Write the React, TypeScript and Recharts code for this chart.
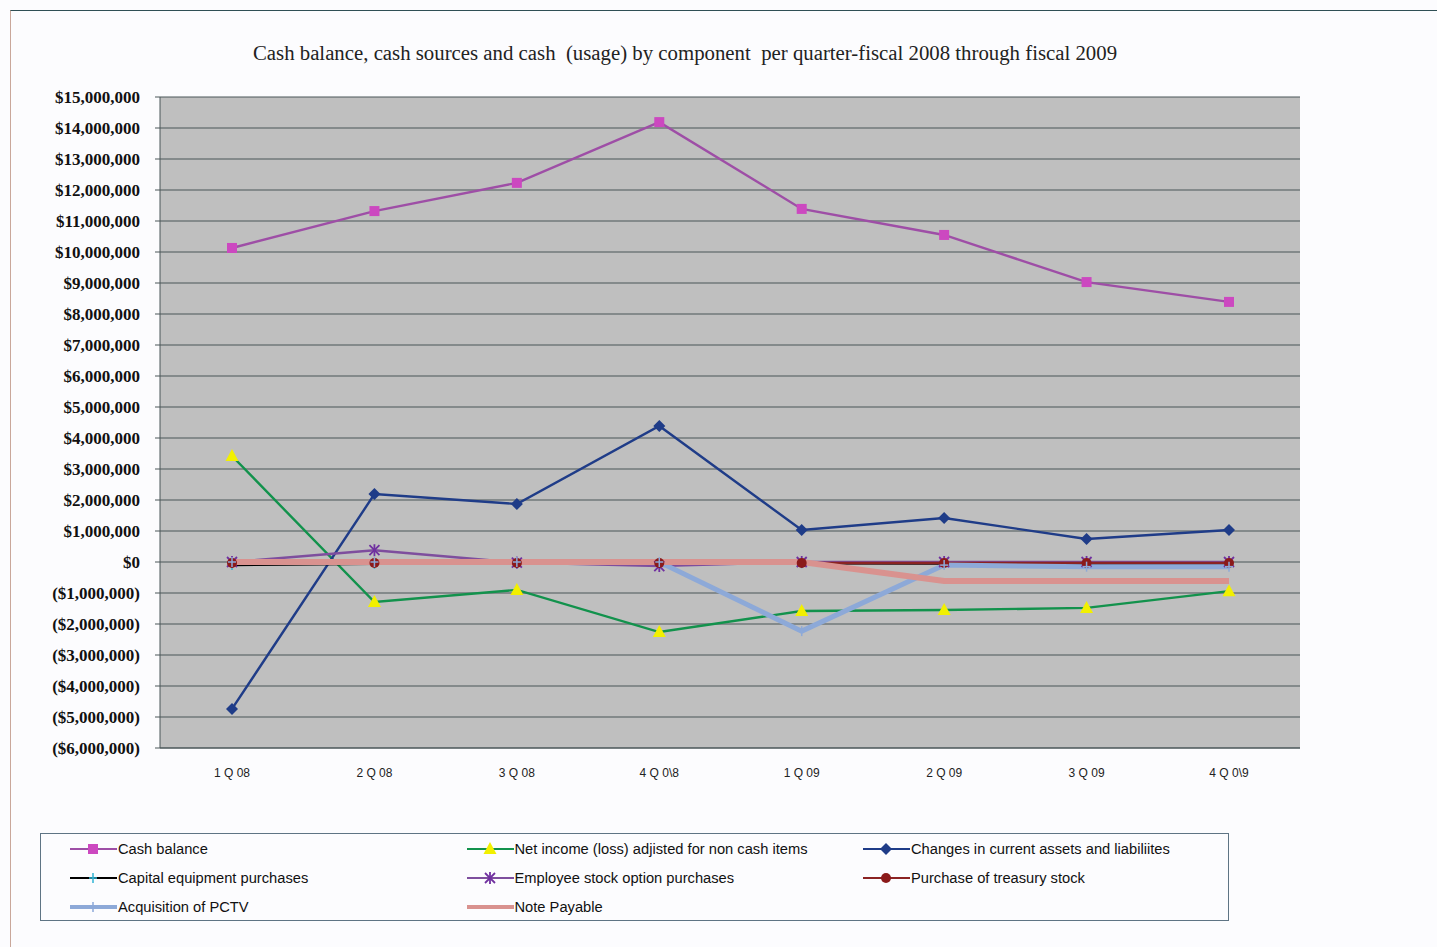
import React from "react";
import { CartesianGrid, Line, LineChart, XAxis, YAxis } from "recharts";

const quarters = ["1 Q 08", "2 Q 08", "3 Q 08", "4 Q 0\\8", "1 Q 09", "2 Q 09", "3 Q 09", "4 Q 0\\9"];

const cashBalance = [10130000, 11320000, 12230000, 14190000, 11390000, 10550000, 9030000, 8390000];
const netIncome = [3420000, -1290000, -900000, -2260000, -1580000, -1550000, -1480000, -940000];
const changesCurrent = [-4740000, 2190000, 1870000, 4390000, 1030000, 1420000, 740000, 1030000];
const capitalEquipment = [-100000, -60000, -50000, -50000, -40000, -50000, -60000, -50000];
const employeeOptions = [0, 380000, -20000, -130000, 0, 0, 0, 0];
const treasuryStock = [-30000, -30000, -30000, -30000, -30000, -30000, -30000, -30000];
const acquisitionPctv = [0, 0, 0, 0, -2230000, -100000, -150000, -150000];
const notePayable = [0, 0, 0, 0, 0, -610000, -610000, -610000];

const yTicks = [
  -6000000, -5000000, -4000000, -3000000, -2000000, -1000000, 0, 1000000, 2000000, 3000000, 4000000,
  5000000, 6000000, 7000000, 8000000, 9000000, 10000000, 11000000, 12000000, 13000000, 14000000, 15000000,
];

const title = "Cash balance, cash sources and cash  (usage) by component  per quarter-fiscal 2008 through fiscal 2009";

const data = quarters.map((q, i) => ({
  q,
  cash: cashBalance[i],
  net: netIncome[i],
  changes: changesCurrent[i],
  capital: capitalEquipment[i],
  employee: employeeOptions[i],
  treasury: treasuryStock[i],
  pctv: acquisitionPctv[i],
  note: notePayable[i],
}));

type MarkerKind = "square" | "triangle" | "diamond" | "plus" | "star" | "circle" | "none";

function Marker({ kind, x, y, color }: { kind: MarkerKind; x: number; y: number; color: string }) {
  switch (kind) {
    case "square":
      return <rect x={x - 5} y={y - 5} width={10} height={10} fill={color} />;
    case "triangle":
      return <polygon points={`${x},${y - 7} ${x + 6.5},${y + 5} ${x - 6.5},${y + 5}`} fill={color} />;
    case "diamond":
      return <polygon points={`${x},${y - 6} ${x + 6},${y} ${x},${y + 6} ${x - 6},${y}`} fill={color} />;
    case "plus":
      return (
        <g stroke={color} strokeWidth={1.5}>
          <line x1={x - 4} y1={y} x2={x + 4} y2={y} />
          <line x1={x} y1={y - 5} x2={x} y2={y + 5} />
        </g>
      );
    case "star":
      return (
        <g stroke={color} strokeWidth={1.8}>
          <line x1={x - 5} y1={y - 5} x2={x + 5} y2={y + 5} />
          <line x1={x - 5} y1={y + 5} x2={x + 5} y2={y - 5} />
          <line x1={x} y1={y - 6} x2={x} y2={y + 6} />
        </g>
      );
    case "circle":
      return <circle cx={x} cy={y} r={5} fill={color} />;
    default:
      return null;
  }
}

const series = [
  { key: "cash", name: "Cash balance", stroke: "#9E4EA6", width: 2.4, marker: "square" as MarkerKind, markerColor: "#CC48C0" },
  { key: "net", name: "Net income (loss) adjisted for non cash items", stroke: "#12924C", width: 2.4, marker: "triangle" as MarkerKind, markerColor: "#F2F000" },
  { key: "changes", name: "Changes in current assets and liabiliites", stroke: "#1F3C88", width: 2.4, marker: "diamond" as MarkerKind, markerColor: "#1F3C88" },
  { key: "capital", name: "Capital equipment purchases", stroke: "#000000", width: 2.4, marker: "plus" as MarkerKind, markerColor: "#2FB4D4" },
  { key: "employee", name: "Employee stock option purchases", stroke: "#7E4E9E", width: 2.4, marker: "star" as MarkerKind, markerColor: "#7030A0" },
  { key: "treasury", name: "Purchase of treasury stock", stroke: "#8B2323", width: 2.4, marker: "circle" as MarkerKind, markerColor: "#8B1A1A" },
  { key: "pctv", name: "Acquisition of PCTV", stroke: "#8DA9D8", width: 5, marker: "plus" as MarkerKind, markerColor: "#8DA9D8" },
  { key: "note", name: "Note Payable", stroke: "#D9928F", width: 6, marker: "none" as MarkerKind, markerColor: "#D9928F" },
];

const money = (v: number) => {
  if (v === 0) return "$0";
  const s = "$" + Math.abs(v).toLocaleString("en-US");
  return v < 0 ? `(${s})` : s;
};

function Legend2() {
  return (
    <div
      style={{
        position: "absolute",
        left: 40,
        top: 833,
        width: 1189,
        height: 88,
        border: "1px solid #5E7484",
        boxSizing: "border-box",
        fontFamily: "'Liberation Sans', Arial, sans-serif",
        fontSize: 14.7,
        color: "#111",
      }}
    >
      {series.map((s, i) => {
        const col = i % 3;
        const row = Math.floor(i / 3);
        return (
          <div
            key={s.key}
            style={{ position: "absolute", left: 29 + col * 396.5, top: 5 + row * 29, display: "flex", alignItems: "center", height: 20 }}
          >
            <svg width={47} height={20}>
              <line x1={0} y1={10} x2={47} y2={10} stroke={s.stroke} strokeWidth={s.width > 3 ? 4 : 2} />
              <Marker kind={s.marker} x={23} y={10} color={s.markerColor} />
            </svg>
            <span style={{ marginLeft: 1, whiteSpace: "nowrap" }}>{s.name}</span>
          </div>
        );
      })}
    </div>
  );
}

export default function App() {
  return (
    <div style={{ position: "absolute", left: 0, top: 0, width: 1437, height: 947, background: "#FCFCFE", overflow: "hidden" }}>
      <div
        style={{
          position: "absolute",
          left: 10,
          top: 10,
          width: 1440,
          height: 950,
          borderTop: "1.5px solid #2F4F55",
          borderLeft: "1.5px solid #C9A79A",
        }}
      />
      <div
        style={{
          position: "absolute",
          left: 0,
          width: 1370,
          top: 41,
          textAlign: "center",
          whiteSpace: "pre",
          fontFamily: "'Liberation Serif', 'Times New Roman', serif",
          fontSize: 20.8,
          color: "#222",
        }}
      >
        {title}
      </div>
      <div style={{ position: "absolute", left: 0, top: 0 }}>
        <LineChart width={1437} height={947} data={data} margin={{ top: 97, left: 10, right: 137, bottom: 169 }}>
          <CartesianGrid vertical={false} fill="#BFBFBF" fillOpacity={1} stroke="#4A5658" strokeWidth={1.2} />
          <XAxis
            dataKey="q"
            padding={{ left: 72, right: 71 }}
            height={30}
            tickLine={false}
            tickSize={5}
            tickMargin={15}
            axisLine={{ stroke: "#4A5658" }}
            tick={{ fontFamily: "'Liberation Sans', Arial, sans-serif", fontSize: 12, fill: "#222" }}
            interval={0}
          />
          <YAxis
            width={150}
            domain={[-6000000, 15000000]}
            ticks={yTicks}
            interval={0}
            tickFormatter={money}
            tickSize={5}
            tickMargin={15}
            tickLine={{ stroke: "#4A5658" }}
            axisLine={{ stroke: "#4A5658" }}
            tick={{ fontFamily: "'Liberation Serif', 'Times New Roman', serif", fontSize: 17, fontWeight: "bold", fill: "#111" }}
          />
          <YAxis yAxisId="frame" orientation="right" width={0} tick={false} tickLine={false} axisLine={{ stroke: "#4A5658", strokeWidth: 1.5 }} />
          {series.map((s) => (
            <Line
              key={s.key}
              dataKey={s.key}
              name={s.name}
              type="linear"
              stroke={s.stroke}
              strokeWidth={s.width}
              isAnimationActive={false}
              dot={(p: any) => {
                if (p.cx == null || p.cy == null) return <g key={p.index} />;
                return (
                  <g key={p.index}>
                    <Marker kind={s.marker} x={p.cx} y={p.cy} color={s.markerColor} />
                  </g>
                );
              }}
              activeDot={false}
            />
          ))}
        </LineChart>
      </div>
      <Legend2 />
    </div>
  );
}
